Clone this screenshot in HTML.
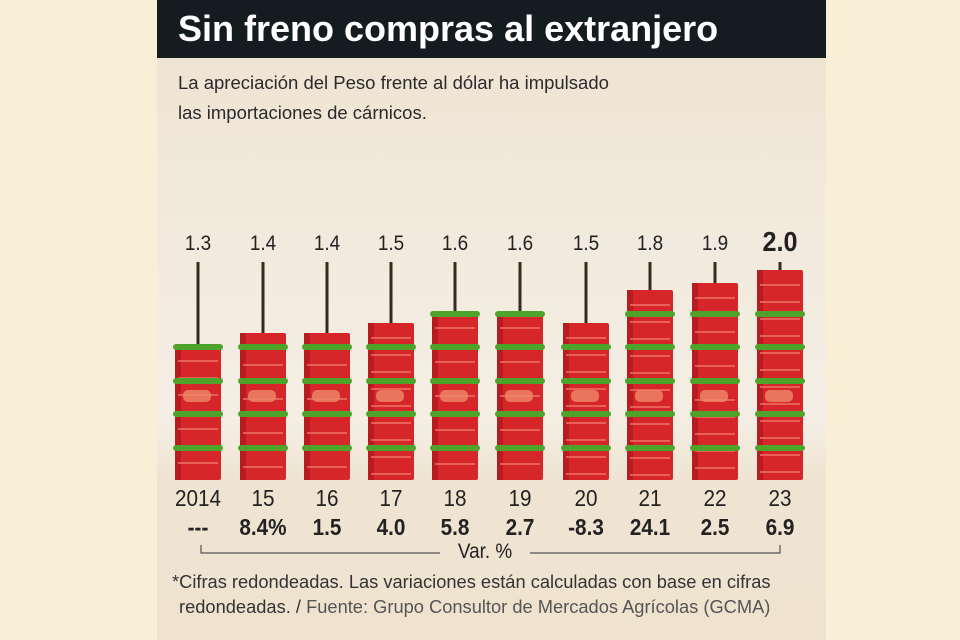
<!DOCTYPE html>
<html><head><meta charset="utf-8"><style>
body{margin:0;width:960px;height:640px;background:#f9efd6;position:relative;overflow:hidden;font-family:"Liberation Sans",sans-serif}
#panel{position:absolute;left:157px;top:0;width:669px;height:640px;background:linear-gradient(#efe2cf 0,#f2e9dc 200px,#f4eee4 420px,#efe4d2 480px,#efe3d0 640px)}
#bar{position:absolute;left:157px;top:0;width:669px;height:58px;background:#141c1f}
#title{position:absolute;left:178px;top:8px;color:#fff;font-weight:bold;font-size:36px;letter-spacing:0px}
.sub{position:absolute;left:178px;color:#2a2a2a;font-size:18.5px}
.n{position:absolute;transform:translateX(-50%) scaleX(0.9);white-space:nowrap;color:#222}
.foot{position:absolute;left:172px;font-size:18.3px;color:#333;white-space:nowrap}
</style></head><body>
<div id="panel"></div><div id="bar"></div>
<div id="title">Sin freno compras al extranjero</div>
<div class="sub" style="top:72px">La apreciación del Peso frente al dólar ha impulsado</div>
<div class="sub" style="top:102px">las importaciones de cárnicos.</div>
<svg width="960" height="640" style="position:absolute;left:0;top:0" id="s"></svg>
<div id="lab"></div>
<svg width="960" height="640" style="position:absolute;left:0;top:0">
<path d="M201 545 V553 H440 M530 553 H780 V545" stroke="#555" stroke-width="1.2" fill="none"/>
</svg>
<div class="n" style="left:485px;top:540px;font-size:21px">Var. %</div>
<div class="foot" style="top:571px">*Cifras redondeadas. Las variaciones están calculadas con base en cifras</div>
<div class="foot" style="top:596px;left:179px">redondeadas. / <span style="color:#555">Fuente: Grupo Consultor de Mercados Agrícolas (GCMA)</span></div>
<script>
var cx=[198,263,327,391,455,520,586,650,715,780],tops=[346,333,333,323,313,313,323,290,283,270],
v=["1.3","1.4","1.4","1.5","1.6","1.6","1.5","1.8","1.9","2.0"],
y=["2014","15","16","17","18","19","20","21","22","23"],
p=["---","8.4%","1.5","4.0","5.8","2.7","-8.3","24.1","2.5","6.9"];
var s="",h="";
for(var i=0;i<10;i++){var x=cx[i],t=tops[i];
s+='<rect x="'+(x-1.5)+'" y="262" width="3" height="'+(t-258)+'" fill="#3a2a1c"/>';
s+='<rect x="'+(x-23)+'" y="'+t+'" width="46" height="'+(480-t)+'" rx="2" fill="#d7262a"/>';
s+='<rect x="'+(x-23)+'" y="'+t+'" width="6" height="'+(480-t)+'" fill="#b81c20"/>';
for(var k=t+14;k<475;k+=17)s+='<rect x="'+(x-20)+'" y="'+k+'" width="40" height="2" fill="#f07a6a" opacity=".7"/>';
s+='<rect x="'+(x-15)+'" y="390" width="28" height="12" rx="5" fill="#ee8a6a" opacity=".8"/>';
[448,414,381,347,314].forEach(function(b){if(b>t-4)s+='<rect x="'+(x-25)+'" y="'+(b-3)+'" width="50" height="6" rx="3" fill="#4ea32a"/>';});
h+='<div class="n" style="left:'+x+'px;top:'+(i==9?226:232)+'px;font-size:'+(i==9?28:21)+'px;'+(i==9?'font-weight:bold':'')+'">'+v[i]+'</div>';
h+='<div class="n" style="left:'+x+'px;top:485px;font-size:23px">'+y[i]+'</div>';
h+='<div class="n" style="left:'+x+'px;top:514px;font-size:23px;font-weight:bold">'+p[i]+'</div>';}
document.getElementById('s').innerHTML=s;document.getElementById('lab').innerHTML=h;
</script>
</body></html>
